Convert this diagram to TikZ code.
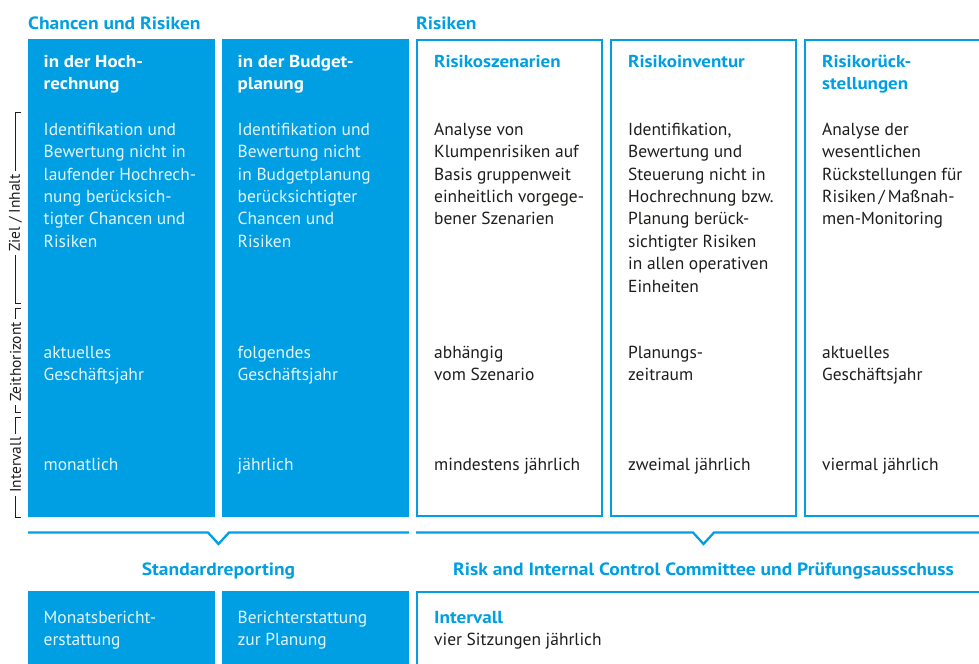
\documentclass[tikz,border=0pt]{standalone}
\usepackage{fontspec}
\setmainfont{PT Sans}[BoldFeatures={FakeStretch=1.1}]
\definecolor{cblue}{RGB}{0,159,227}
\definecolor{ctext}{RGB}{29,29,27}
\definecolor{clight}{RGB}{228,244,253}
\begin{document}
\begin{tikzpicture}[x=1bp,y=-1bp,
  fillbox/.style={fill=cblue, draw=none},
  outbox/.style={draw=cblue, line width=2.3bp},
  bracketline/.style={draw=cblue, line width=2.3bp, miter limit=10},
  body/.style={anchor=north west, inner sep=0pt, align=left, font=\fontsize{17.5}{22.5}\selectfont},
  headw/.style={body, text=white, font=\fontsize{17.3}{22}\selectfont\bfseries},
  headb/.style={body, text=cblue, font=\fontsize{17.3}{22}\selectfont\bfseries},
  bodyw/.style={body, text=clight},
  bodyk/.style={body, text=ctext},
  title/.style={inner sep=0pt, text=cblue, font=\fontsize{17.8}{20}\selectfont\bfseries},
  vlab/.style={rotate=90, inner sep=3bp, text=ctext, font=\fontsize{15.5}{17}\selectfont},
  tick/.style={draw=ctext, line width=0.9bp}
]
\useasboundingbox (0,0) rectangle (979,664);
\clip (0,0) rectangle (979,664);

% titles
\node[title, anchor=base west] (t1) at (28,30) {Chancen und Risiken};
\node[title, anchor=base west] (t2) at (416,30) {Risiken};

% top boxes
\path[fillbox] (28,39) rectangle (215,517);
\path[fillbox] (222,39) rectangle (409,517);
\draw[outbox] (417.15,40.15) rectangle (601.85,515.85);
\draw[outbox] (611.15,40.15) rectangle (795.85,515.85);
\draw[outbox] (805.15,40.15) rectangle (1000,515.85);

% headers
\node[headw] (h1) at (43.5,51.6) {\strut in der Hoch-\\rechnung};
\node[headw] (h2) at (237.5,51.6) {\strut in der Budget-\\planung};
\node[headb] (h3) at (434,51.6) {\strut Risikoszenarien};
\node[headb] (h4) at (628,51.6) {\strut Risikoinventur};
\node[headb] (h5) at (822,51.6) {\strut Risikorück-\\stellungen};

% row 1
\node[bodyw] (a1) at (43.5,119.3) {\strut Identifikation und\\Bewertung nicht in\\laufender Hochrech-\\nung berücksich-\\tigter Chancen und\\Risiken};
\node[bodyw] (a2) at (237.5,119.3) {\strut Identifikation und\\Bewertung nicht\\in Budgetplanung\\berücksichtigter\\Chancen und\\Risiken};
\node[bodyk] (a3) at (434,119.3) {\strut Analyse von\\Klumpenrisiken auf\\Basis gruppenweit\\einheitlich vorgege-\\bener Szenarien};
\node[bodyk] (a4) at (628,119.3) {\strut Identifikation,\\Bewertung und\\Steuerung nicht in\\Hochrechnung bzw.\\Planung berück-\\sichtigter Risiken\\in allen operativen\\Einheiten};
\node[bodyk] (a5) at (822,119.3) {\strut Analyse der\\wesentlichen\\Rückstellungen für\\Risiken\,/\,Maßnah-\\men-Monitoring};

% row 2
\node[bodyw] (b1) at (43.5,342.3) {\strut aktuelles\\Geschäftsjahr};
\node[bodyw] (b2) at (237.5,342.3) {\strut folgendes\\Geschäftsjahr};
\node[bodyk] (b3) at (434,342.3) {\strut abhängig\\vom Szenario};
\node[bodyk] (b4) at (628,342.3) {\strut Planungs-\\zeitraum};
\node[bodyk] (b5) at (822,342.3) {\strut aktuelles\\Geschäftsjahr};

% row 3
\node[bodyw] (c1) at (43.5,454.3) {\strut monatlich};
\node[bodyw] (c2) at (237.5,454.3) {\strut jährlich};
\node[bodyk] (c3) at (434,454.3) {\strut mindestens jährlich};
\node[bodyk] (c4) at (628,454.3) {\strut zweimal jährlich};
\node[bodyk] (c5) at (822,454.3) {\strut viermal jährlich};

% left side labels
\node[vlab] (lz) at (15.5,213) {Ziel / Inhalt};
\node[vlab] (lh) at (15.5,362) {Zeithorizont};
\node[vlab] (li) at (15.5,465) {Intervall};
\coordinate (z1) at (21,112); \coordinate (z2) at (15.5,112);
\coordinate (z3) at (15.5,303); \coordinate (z4) at (21,303);
\coordinate (h1a) at (21,308); \coordinate (h1b) at (15.5,308);
\coordinate (h1c) at (15.5,412); \coordinate (h1d) at (21,412);
\coordinate (i1a) at (21,417); \coordinate (i1b) at (15.5,417);
\coordinate (i1c) at (15.5,517); \coordinate (i1d) at (21,517);
\draw[tick] (z1) -- (z2) -- (lz.east);
\draw[tick] (lz.west) -- (z3) -- (z4);
\draw[tick] (h1a) -- (h1b) -- (lh.east);
\draw[tick] (lh.west) -- (h1c) -- (h1d);
\draw[tick] (i1a) -- (i1b) -- (li.east);
\draw[tick] (li.west) -- (i1c) -- (i1d);

% brackets
\draw[bracketline] (28,532.5) -- (208,532.5) -- (218.5,544) -- (229,532.5) -- (409,532.5);
\draw[bracketline] (416,532.5) -- (693,532.5) -- (703.5,544) -- (714,532.5) -- (1000,532.5);

\node[title, anchor=base] (s1) at (218.5,575) {Standardreporting};
\node[title, anchor=base] (s2) at (703.5,575) {Risk and Internal Control Committee und Prüfungsausschuss};

% bottom boxes
\path[fillbox] (28,591) rectangle (215,700);
\path[fillbox] (222,591) rectangle (409,700);
\draw[outbox] (417.15,592.15) rectangle (1000,700);

\node[bodyw] (d1) at (43.5,607.3) {\strut Monatsbericht-\\erstattung};
\node[bodyw] (d2) at (237.5,607.3) {\strut Berichterstattung\\zur Planung};
\node[bodyk] (d3) at (434,607.3) {\strut \textcolor{cblue}{\bfseries Intervall}\\vier Sitzungen jährlich};
\end{tikzpicture}
\end{document}
